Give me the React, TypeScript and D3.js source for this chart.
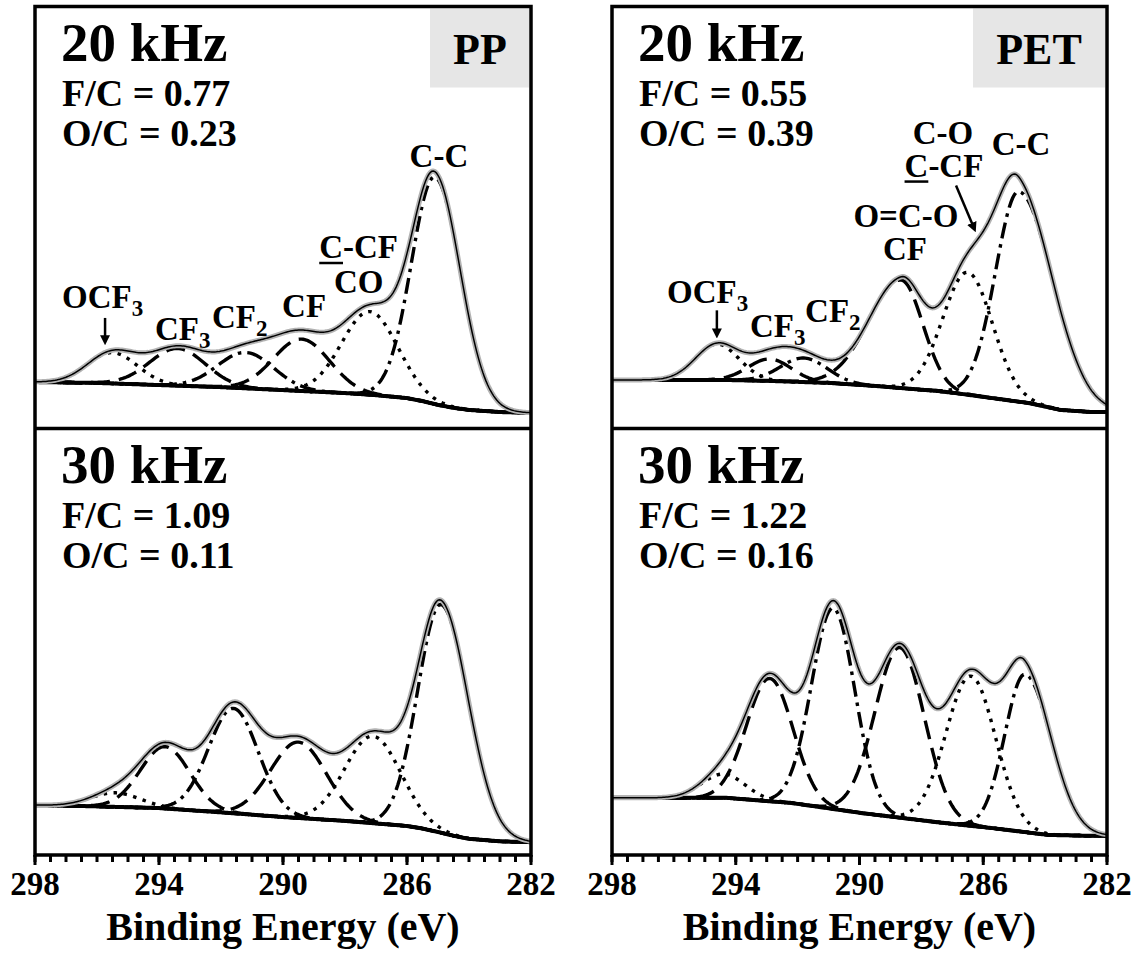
import React from "react";
import * as d3 from "d3";

// axis
const majorTicks = [298, 294, 290, 286, 282];
const minorTicks = d3.range(298, 281.9, -0.5);

const materials = ["PP", "PET"];
const frequencies = ["20 kHz", "30 kHz"];
const fcRatios = [["0.77", "1.09"], ["0.55", "1.22"]];
const ocRatios = [["0.23", "0.11"], ["0.39", "0.16"]];

// fitted components, order: OCF3, CF3, CF2, CF, C-CF/CO, C-C
// centre (eV), height (a.u.), sigma on the high-BE side, sigma on the low-BE side
const pp20Centers = [295.5, 293.4, 291.2, 289.4, 287.2, 285.1];
const pp20Heights = [7.3, 8.8, 8.5, 12.3, 19.7, 53.8];
const pp20SigmaL = [0.8, 0.9, 0.9, 0.9, 0.9, 0.75];
const pp20SigmaR = [0.8, 0.9, 0.9, 0.9, 0.9, 0.82];
const pp20BgEnergy = [298, 296, 294, 292, 290, 288, 287, 286, 285.5, 285, 284.5, 284, 283, 282];
const pp20BgLevel = [11.0, 10.8, 10.3, 9.8, 9.1, 8.4, 7.9, 7.2, 6.5, 5.6, 4.9, 4.4, 3.9, 3.7];

const pp30Centers = [295.4, 293.8, 291.6, 289.5, 287.1, 284.9];
const pp30Heights = [3.3, 14.5, 24.6, 17.8, 20.4, 53.5];
const pp30SigmaL = [0.8, 0.8, 0.8, 0.9, 0.9, 0.75];
const pp30SigmaR = [0.8, 0.8, 0.8, 0.9, 0.9, 0.88];
const pp30BgEnergy = [298, 296, 294, 292, 290, 288, 287, 286, 285.5, 285, 284.5, 284, 283, 282];
const pp30BgLevel = [11.7, 11.4, 11.0, 10.0, 8.9, 8.0, 7.4, 6.8, 6.2, 5.4, 4.5, 3.8, 3.2, 3.0];

const pet20Centers = [294.6, 292.9, 291.8, 288.65, 286.5, 284.85];
const pet20Heights = [8.5, 5.2, 5.7, 25.6, 29.0, 49.8];
const pet20SigmaL = [0.7, 0.7, 0.75, 1.05, 0.8, 0.75];
const pet20SigmaR = [0.7, 0.7, 0.75, 0.7, 0.8, 1.1];
const pet20BgEnergy = [298, 294.4, 293, 291, 289.5, 288.7, 287.5, 286.9, 285.7, 284.5, 283.5, 282.5, 282];
const pet20BgLevel = [11.5, 11.5, 11.3, 10.8, 10.1, 9.6, 8.9, 8.4, 7.2, 6.0, 4.4, 3.9, 3.9];

const pet30Centers = [294.4, 292.9, 290.85, 288.7, 286.4, 284.65];
const pet30Heights = [5.6, 28.8, 47.1, 39.9, 35.1, 37.0];
const pet30SigmaL = [0.7, 0.75, 0.7, 0.8, 0.8, 0.65];
const pet30SigmaR = [0.7, 0.75, 0.7, 0.8, 0.8, 0.85];
const pet30BgEnergy = [298, 294.3, 292.2, 289.9, 287.5, 285.7, 283.9, 282.5, 282];
const pet30BgLevel = [13.4, 13.4, 12.2, 9.8, 7.7, 6.3, 4.7, 4.5, 4.5];

// peak labels (energy, intensity) for the 20 kHz spectra
const pp20Labels = [
  { base: "OCF", sub: "3", e: 297.13, i: 28.6, anchor: "start" },
  { base: "CF", sub: "3", e: 294.13, i: 21.0, anchor: "start" },
  { base: "CF", sub: "2", e: 292.29, i: 23.8, anchor: "start" },
  { base: "CF", sub: "", e: 289.32, i: 26.4, anchor: "middle" },
  { base: "C-CF", sub: "", e: 287.56, i: 40.4, anchor: "middle", underline: true },
  { base: "CO", sub: "", e: 287.56, i: 32.1, anchor: "middle" },
  { base: "C-C", sub: "", e: 284.97, i: 62.0, anchor: "middle" },
];
const pp20Arrows = [{ e1: 295.74, i1: 26.2, e2: 295.74, i2: 20.8 }];

const pet20Labels = [
  { base: "OCF", sub: "3", e: 296.22, i: 29.7, anchor: "start" },
  { base: "CF", sub: "3", e: 293.54, i: 21.7, anchor: "start" },
  { base: "CF", sub: "2", e: 291.76, i: 25.2, anchor: "start" },
  { base: "CF", sub: "", e: 288.53, i: 39.9, anchor: "middle" },
  { base: "O=C-O", sub: "", e: 288.5, i: 47.7, anchor: "middle" },
  { base: "C-CF", sub: "", e: 287.27, i: 59.7, anchor: "middle", underline: true },
  { base: "C-O", sub: "", e: 287.3, i: 67.5, anchor: "middle" },
  { base: "C-C", sub: "", e: 284.78, i: 64.8, anchor: "middle" },
];
const pet20Arrows = [
  { e1: 294.61, i1: 28.0, e2: 294.61, i2: 22.4 },
  { e1: 286.88, i1: 57.6, e2: 286.3, i2: 47.5 },
];

const fits = [
  [
    { c: pp20Centers, h: pp20Heights, sl: pp20SigmaL, sr: pp20SigmaR, be: pp20BgEnergy, bl: pp20BgLevel, labels: pp20Labels, arrows: pp20Arrows },
    { c: pp30Centers, h: pp30Heights, sl: pp30SigmaL, sr: pp30SigmaR, be: pp30BgEnergy, bl: pp30BgLevel, labels: [], arrows: [] },
  ],
  [
    { c: pet20Centers, h: pet20Heights, sl: pet20SigmaL, sr: pet20SigmaR, be: pet20BgEnergy, bl: pet20BgLevel, labels: pet20Labels, arrows: pet20Arrows },
    { c: pet30Centers, h: pet30Heights, sl: pet30SigmaL, sr: pet30SigmaR, be: pet30BgEnergy, bl: pet30BgLevel, labels: [], arrows: [] },
  ],
];

// line style per component
const compDash = ["3.5 6.5", "19 9", "16 6 3.5 6", "19 9", "3.5 6.5", "16 6 3.5 6"];

const colX = [[35, 531], [612, 1107]];
const rowY = [[6.5, 428.5], [428.5, 855]];
const grid = d3.range(0, 321).map((k) => 298 - k * 0.05);
const FONT = "'Liberation Serif', 'Times New Roman', serif";

const peak = (e, c, h, sl, sr) => {
  const s = e > c ? sl : sr;
  return h * Math.exp(-0.5 * ((e - c) / s) ** 2);
};

function Panel({ col, row }) {
  const fit = fits[col][row];
  const [x0, x1] = colX[col];
  const [yt, yb] = rowY[row];
  const x = d3.scaleLinear().domain([298, 282]).range([x0, x1]);
  const y = d3.scaleLinear().domain([0, 100]).range([yb, yt]);
  const bg = d3.scaleLinear().domain(fit.be).range(fit.bl);

  const comp = (k) => (e) => bg(e) + peak(e, fit.c[k], fit.h[k], fit.sl[k], fit.sr[k]);
  const total = (e) => bg(e) + d3.sum(fit.c, (c, k) => peak(e, c, fit.h[k], fit.sl[k], fit.sr[k]));
  const path = (f) => d3.line().x((e) => x(e)).y((e) => y(f(e)))(grid);

  const clipId = `clip-${col}-${row}`;
  return (
    <g>
      <clipPath id={clipId}>
        <rect x={x0} y={yt} width={x1 - x0} height={yb - yt} />
      </clipPath>
      <g clipPath={`url(#${clipId})`}>
        <path d={path(bg)} fill="none" stroke="#000" strokeWidth={4} />
        {fit.c.map((c, k) => (
          <path key={k} d={path(comp(k))} fill="none" stroke="#000" strokeWidth={3.4} strokeDasharray={compDash[k]} />
        ))}
        <path d={path(total)} fill="none" stroke="#b3b3b3" strokeWidth={5} strokeLinejoin="round" />
        <path d={path(total)} fill="none" stroke="#000" strokeWidth={1.5} />
      </g>
      {row === 0 && (
        <g>
          <rect x={col === 0 ? 430 : 973} y={yt + 2} width={col === 0 ? 99 : 132} height={79} fill="#e6e6e6" />
          <text x={col === 0 ? 480 : 1039} y={yt + 57} fontSize={44} textAnchor="middle">{materials[col]}</text>
        </g>
      )}
      <text x={x0 + 26} y={yt + 54} fontSize={55}>{frequencies[row]}</text>
      <text x={x0 + 27} y={yt + 99.5} fontSize={38}>{`F/C = ${fcRatios[col][row]}`}</text>
      <text x={x0 + 27} y={yt + 139.5} fontSize={38}>{`O/C = ${ocRatios[col][row]}`}</text>
      {fit.labels.map((lb, k) => {
        const fs = 33;
        const w = fs * 2.388;
        return (
          <g key={k}>
            <text x={x(lb.e)} y={y(lb.i)} fontSize={fs} textAnchor={lb.anchor}>
              {lb.base}
              {lb.sub && <tspan fontSize={23} dy={8}>{lb.sub}</tspan>}
            </text>
            {lb.underline && (
              <line x1={x(lb.e) - w / 2} x2={x(lb.e) - w / 2 + fs * 0.72} y1={y(lb.i) + 5} y2={y(lb.i) + 5} stroke="#000" strokeWidth={2.5} />
            )}
          </g>
        );
      })}
      {fit.arrows.map((a, k) => (
        <line key={k} x1={x(a.e1)} y1={y(a.i1)} x2={x(a.e2)} y2={y(a.i2)} stroke="#000" strokeWidth={2.5} markerEnd="url(#arrowhead)" />
      ))}
    </g>
  );
}

function Column({ col }) {
  const [x0, x1] = colX[col];
  const x = d3.scaleLinear().domain([298, 282]).range([x0, x1]);
  const yb = rowY[1][1];
  return (
    <g>
      <Panel col={col} row={0} />
      <Panel col={col} row={1} />
      <rect x={x0} y={rowY[0][0]} width={x1 - x0} height={yb - rowY[0][0]} fill="none" stroke="#000" strokeWidth={3.5} />
      <line x1={x0} x2={x1} y1={rowY[0][1]} y2={rowY[0][1]} stroke="#000" strokeWidth={3.5} />
      {minorTicks.map((t) => (
        <line key={t} x1={x(t)} x2={x(t)} y1={yb} y2={yb + 7} stroke="#000" strokeWidth={3} />
      ))}
      {majorTicks.map((t) => (
        <g key={t}>
          <line x1={x(t)} x2={x(t)} y1={yb} y2={yb + 10} stroke="#000" strokeWidth={3} />
          <text x={x(t)} y={895} fontSize={33} textAnchor="middle">{t}</text>
        </g>
      ))}
      <text x={(x0 + x1) / 2} y={940} fontSize={40} textAnchor="middle">Binding Energy (eV)</text>
    </g>
  );
}

export default function App() {
  return (
    <svg width={1144} height={955} fontFamily={FONT} fontWeight="bold" style={{ position: "absolute", left: 0, top: 0, background: "#fff" }}>
      <defs>
        <marker id="arrowhead" markerWidth={4} markerHeight={4} refX={2.2} refY={2} orient="auto" markerUnits="strokeWidth">
          <path d="M0,0 L4,2 L0,4 Z" fill="#000" />
        </marker>
      </defs>
      <Column col={0} />
      <Column col={1} />
    </svg>
  );
}
